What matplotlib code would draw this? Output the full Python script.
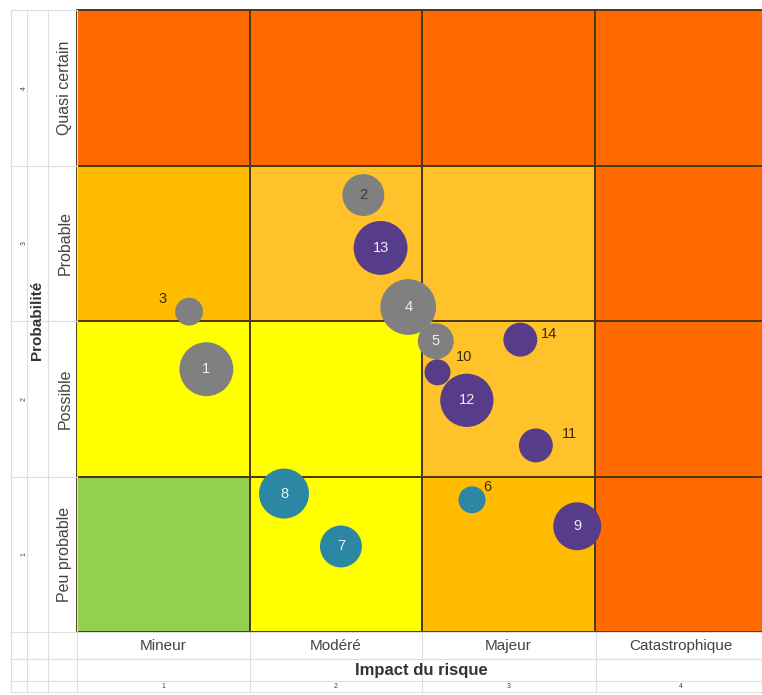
import numpy as np
import matplotlib
matplotlib.use("Agg")
import matplotlib.pyplot as plt
from matplotlib.colors import ListedColormap
from matplotlib.lines import Line2D

plt.rcParams['font.family'] = ['Liberation Sans', 'DejaVu Sans']

# axes categories
impact_labels = ['Mineur', 'Modéré', 'Majeur', 'Catastrophique']
proba_labels = ['Peu probable', 'Possible', 'Probable', 'Quasi certain']
scale_ticks = ['1', '2', '3', '4']

# criticity level of each cell, rows from "Peu probable" up to "Quasi certain"
levels = np.array([
    [0, 1, 2, 4],
    [1, 1, 3, 4],
    [2, 3, 3, 4],
    [4, 4, 4, 4],
])
level_colors = ['#92D050', '#FFFF00', '#FFBB00', '#FFC22A', '#FF6A00']

# risks
risk_id = [1, 2, 3, 4, 5, 6, 7, 8, 9, 10, 11, 12, 13, 14]
risk_impact = [0.75, 1.66, 0.65, 1.92, 2.08, 2.29, 1.53, 1.20, 2.90, 2.09, 2.66, 2.26, 1.76, 2.57]
risk_proba = [1.69, 2.81, 2.06, 2.09, 1.87, 0.85, 0.55, 0.89, 0.68, 1.67, 1.20, 1.49, 2.47, 1.88]
risk_weight = [4.3, 2.6, 1.15, 4.6, 1.9, 1.08, 2.6, 3.7, 3.4, 1.0, 1.7, 4.2, 4.3, 1.7]
risk_group = ['g', 'g', 'g', 'g', 'g', 't', 't', 't', 'p', 'p', 'p', 'p', 'p', 'p']

W, H = 762, 695
fig = plt.figure(figsize=(W / 100, H / 100), dpi=100)
fig.patch.set_facecolor('white')

def fx(px):
    return px / W

def fy(py):
    return 1 - py / H

# faint spreadsheet grid behind the chart
grid_kw = dict(color='#dedede', lw=0.8, transform=fig.transFigure)
for x in [11, 27, 48, 77]:
    fig.add_artist(Line2D([fx(x), fx(x)], [fy(10), fy(692)], **grid_kw))
for x in [250, 422, 596]:
    fig.add_artist(Line2D([fx(x), fx(x)], [fy(632), fy(692)], **grid_kw))
for y in [10, 166, 321, 477]:
    fig.add_artist(Line2D([fx(11), fx(77)], [fy(y), fy(y)], **grid_kw))
for y in [632, 659, 681, 692]:
    fig.add_artist(Line2D([fx(11), 1], [fy(y), fy(y)], **grid_kw))

ax = fig.add_axes([fx(77), fy(632), fx(767) - fx(77), fy(10) - fy(632)])
ax.pcolormesh(np.arange(5), np.arange(5), levels, cmap=ListedColormap(level_colors),
              vmin=-0.5, vmax=4.5, edgecolors='#4d3a14', linewidth=1.4)
ax.set_xlim(0, 4)
ax.set_ylim(0, 4)
ax.set_xticks([])
ax.set_yticks([])
for s in ax.spines.values():
    s.set_color('#4d3a14')
    s.set_linewidth(1.4)

group_color = {'g': '#808080', 't': '#2B87A3', 'p': '#573C8A'}
order = ['p', 't', 'g']
for g in order:
    idx = [i for i, k in enumerate(risk_group) if k == g]
    ax.scatter([risk_impact[i] for i in idx], [risk_proba[i] for i in idx],
               s=[350 * risk_weight[i] for i in idx], color=group_color[g],
               edgecolors='none', zorder=3)

# labels: small bubbles get their number outside
outside = {3: (-19, 9), 10: (19, 11), 14: (21, 4), 11: (24, 8), 6: (11, 9)}
for i, n in enumerate(risk_id):
    if n in outside:
        ax.annotate(str(n), (risk_impact[i], risk_proba[i]), xytext=outside[n],
                    textcoords='offset points', ha='center', va='center',
                    fontsize=10.5, color='#3b2c05', zorder=4)
    else:
        c = '#3a3a3a' if n == 2 else '#eeeef4'
        ax.text(risk_impact[i], risk_proba[i], str(n), ha='center', va='center',
                fontsize=10.5, color=c, zorder=4)

# category labels around the matrix
for k, lab in enumerate(impact_labels):
    xc = fx(77 + (k + 0.5) * 172.5)
    fig.text(xc, fy(646), lab, ha='center', va='center', fontsize=11, color='#444444')
    fig.text(xc, fy(687), scale_ticks[k], ha='center', va='center', fontsize=5, color='#444444')
for k, lab in enumerate(proba_labels):
    yc = fy(632 - (k + 0.5) * 155.5)
    fig.text(fx(65), yc, lab, ha='center', va='center', rotation=90, fontsize=11.5, color='#444444')
    fig.text(fx(24), yc, scale_ticks[k], ha='center', va='center', rotation=90, fontsize=5, color='#444444')

fig.text(fx(421), fy(670), 'Impact du risque', ha='center', va='center',
         fontsize=12, fontweight='bold', color='#333333')
fig.text(fx(37), fy(320), 'Probabilité', ha='center', va='center', rotation=90,
         fontsize=11, fontweight='bold', color='#333333')

fig.savefig('out.png', dpi=100, facecolor='white')
